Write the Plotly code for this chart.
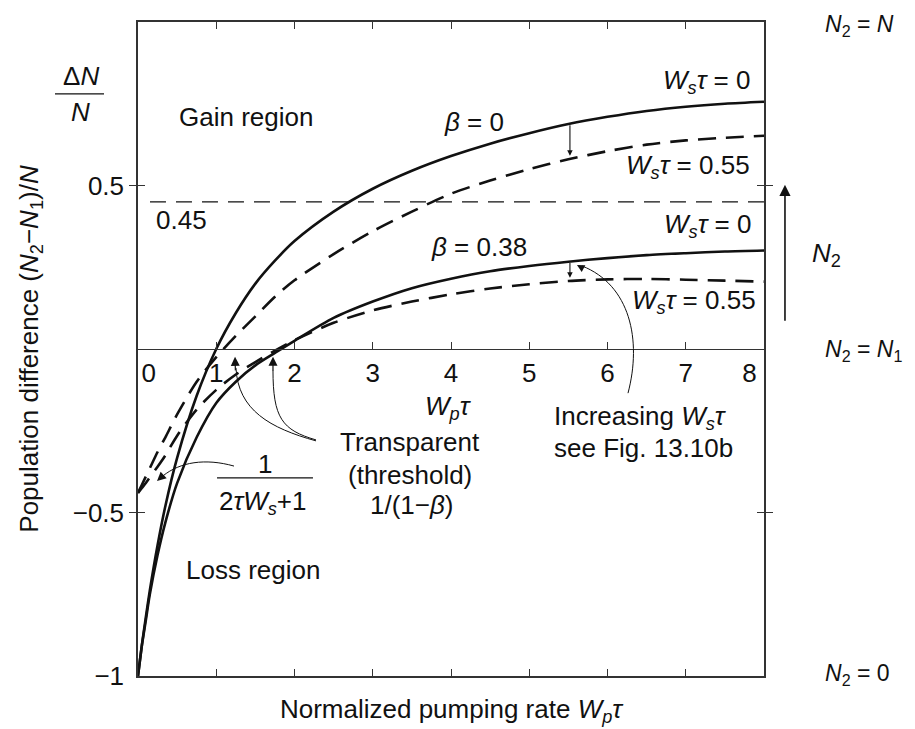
import numpy as np
import plotly.graph_objects as go

# ---------------- data ----------------
wp_tau = [0, 0.05, 0.1, 0.15, 0.25, 0.35, 0.5, 0.75, 1.0, 1.25, 1.5, 1.75, 2.0,
          2.5, 3.0, 3.5, 4.0, 4.5, 5.0, 5.5, 6.0, 6.5, 7.0, 7.5, 8.0]
beta0_ws0 = [-1.0, -0.905, -0.82, -0.74, -0.60, -0.48, -0.333, -0.143, 0.0,
             0.11, 0.20, 0.27, 0.33, 0.42, 0.49, 0.545, 0.59, 0.628, 0.66,
             0.688, 0.71, 0.728, 0.741, 0.75, 0.756]
beta0_ws055 = [-0.44, -0.415, -0.39, -0.365, -0.315, -0.27, -0.20, -0.10,
               -0.025, 0.04, 0.10, 0.16, 0.21, 0.29, 0.36, 0.42, 0.475, 0.515,
               0.55, 0.58, 0.605, 0.625, 0.638, 0.646, 0.652]
beta038_ws0 = [-1.0, -0.906, -0.83, -0.752, -0.63, -0.53, -0.41, -0.27, -0.165,
               -0.10, -0.05, -0.012, 0.025, 0.095, 0.145, 0.186, 0.215, 0.238,
               0.254, 0.267, 0.278, 0.287, 0.293, 0.298, 0.301]
beta038_ws055 = [-0.44, -0.425, -0.41, -0.393, -0.36, -0.325, -0.265, -0.185,
                 -0.125, -0.078, -0.04, -0.005, 0.027, 0.08, 0.118, 0.145,
                 0.167, 0.185, 0.198, 0.208, 0.213, 0.214, 0.212, 0.209, 0.206]
ref_level = 0.45
x_tick_vals = [0, 1, 2, 3, 4, 5, 6, 7, 8]
x_tick_text = ["\u00a0\u00a0\u00a00", "1", "2", "3", "4", "5", "6", "7",
               "8\u00a0\u00a0\u00a0\u00a0"]
y_tick_vals = [-1, -0.5, 0.5, 1]
y_tick_text = ["\u22121", "\u22120.5", "0.5", "1"]

FONT = "Liberation Sans, Arial, Helvetica, sans-serif"
FS = 26
INK = "#111111"
FRAME = "#333333"

fig = go.Figure()

curves = [(beta0_ws0, "solid"), (beta0_ws055, "18px,10px"),
          (beta038_ws0, "solid"), (beta038_ws055, "18px,10px")]
for ys, dash in curves:
    fig.add_trace(go.Scatter(
        x=wp_tau, y=ys, mode="lines", showlegend=False, hoverinfo="skip",
        line=dict(color=INK, width=2.6, dash=dash, shape="spline", smoothing=0.8)))

# reference level line (drawn on the overlay axis so it exists)
fig.add_trace(go.Scatter(
    x=[0.153, 8], y=[ref_level, ref_level], mode="lines", xaxis="x2",
    showlegend=False, hoverinfo="skip",
    line=dict(color=INK, width=1.3, dash="16px,10px")))

ann = []


def refs(ref):
    return ("x", "y") if ref == "data" else ("x domain", "y domain")


def txt(x, y, s, ref="data", size=FS, **kw):
    r = refs(ref)
    d = dict(x=x, y=y, xref=r[0], yref=r[1], text=s, showarrow=False,
             xanchor="center", yanchor="middle",
             font=dict(family=FONT, size=size, color=INK))
    d.update(kw)
    ann.append(d)


def arrow(x, y, ax, ay, head=2, size=1.2, width=1.2, ref="data"):
    r = refs(ref)
    ann.append(dict(x=x, y=y, ax=ax, ay=ay, xref=r[0], yref=r[1], axref=r[0],
                    ayref=r[1], text="", showarrow=True, arrowhead=head,
                    arrowsize=size, arrowwidth=width, arrowcolor=INK,
                    standoff=0, startstandoff=0))


W_s = "<i>W<sub>s</sub>τ</i>"

# texts outside the plotting area (domain coordinates)
txt(-0.0911, 0.917, "Δ<i>N</i>", ref="dom")
txt(-0.0911, 0.862, "<i>N</i>", ref="dom")
txt(1.095, 0.995, "<i>N</i><sub>2</sub> = <i>N</i>", ref="dom", size=23,
    xanchor="left")
txt(1.0735, 0.645, "<i>N</i><sub>2</sub>", ref="dom", xanchor="left")
txt(1.095, 0.498, "<i>N</i><sub>2</sub> = <i>N</i><sub>1</sub>", ref="dom",
    size=23, xanchor="left")
txt(1.095, 0.002, "<i>N</i><sub>2</sub> = 0", ref="dom", size=23, xanchor="left")
arrow(1.0335, 0.751, 1.0335, 0.541, head=2, size=1.4, width=1.6, ref="dom")

# texts inside
txt(1.38, 0.709, "Gain region")
txt(4.29, 0.694, "<i>β</i> = 0")
txt(7.85, 0.817, W_s + " = 0", xanchor="right")
txt(7.85, 0.557, W_s + " = 0.55", xanchor="right")
txt(0.562, 0.394, "0.45")
txt(7.86, 0.379, W_s + " = 0", xanchor="right")
txt(4.36, 0.312, "<i>β</i> = 0.38")
txt(7.92, 0.144, W_s + " = 0.55", xanchor="right")
txt(5.29, -0.208, "Increasing " + W_s, xanchor="left")
txt(5.29, -0.303, "see Fig. 13.10b", xanchor="left")
txt(3.97, -0.18, "<i>W<sub>p</sub>τ</i>")
txt(3.48, -0.285, "Transparent")
txt(3.48, -0.385, "(threshold)")
txt(3.50, -0.478, "1/(1−<i>β</i>)")
txt(1.623, -0.352, "1")
txt(1.585, -0.468, "2<i>τW<sub>s</sub></i>+1")
txt(1.47, -0.676, "Loss region")

# arrows
x_arr = 5.52
arrow(x_arr, float(np.interp(x_arr, wp_tau, beta0_ws055)) + 0.01,
      x_arr, float(np.interp(x_arr, wp_tau, beta0_ws0)), head=2, size=1.0, width=1.1)
arrow(x_arr, float(np.interp(x_arr, wp_tau, beta038_ws055)) + 0.01,
      x_arr, float(np.interp(x_arr, wp_tau, beta038_ws0)), head=2, size=1.0, width=1.1)
arrow(1.24, -0.024, 1.245, -0.07, head=2, size=1.5, width=1.2)
arrow(1.725, -0.024, 1.725, -0.07, head=2, size=1.5, width=1.2)
arrow(0.243, -0.404, 0.33, -0.385, head=2, size=1.5, width=1.2)
arrow(5.61, 0.257, 5.70, 0.245, head=2, size=1.5, width=1.0)

shapes = [
    dict(type="line", xref="x domain", yref="y domain", x0=-0.1326, x1=-0.0543,
         y0=0.890, y1=0.890, line=dict(color=INK, width=1.3)),
    dict(type="line", xref="x", yref="y", x0=1.010, x1=2.236, y0=-0.394, y1=-0.394,
         line=dict(color=INK, width=1.3)),
    dict(type="path", xref="x", yref="y",
         path="M 2.275,-0.281 C 1.687,-0.242 1.278,-0.187 1.252,-0.058",
         line=dict(color=INK, width=1.0)),
    dict(type="path", xref="x", yref="y",
         path="M 2.275,-0.278 C 1.840,-0.248 1.725,-0.211 1.725,-0.064",
         line=dict(color=INK, width=1.0)),
    dict(type="path", xref="x", yref="y",
         path="M 1.227,-0.358 C 0.856,-0.333 0.537,-0.346 0.319,-0.388",
         line=dict(color=INK, width=1.0)),
    dict(type="path", xref="x", yref="y",
         path="M 6.262,-0.135 C 6.441,0.028 6.288,0.196 5.674,0.254",
         line=dict(color=INK, width=1.0)),
]

axis_common = dict(showgrid=False, zeroline=False, linecolor=FRAME, tickcolor=FRAME,
                   ticks="inside", ticklen=7, tickwidth=1.2, automargin=False)

# the page body adds an 8px offset at the top-left, so the figure is 8px smaller
fig.update_layout(
    width=907, height=721,
    margin=dict(l=130, r=151, t=14, b=53),
    plot_bgcolor="white", paper_bgcolor="white",
    font=dict(family=FONT, size=FS, color=INK),
    showlegend=False,
    annotations=ann,
    shapes=shapes,
    xaxis=dict(range=[0, 8], showline=True, linewidth=1.5, mirror="allticks",
               tickvals=[1, 2, 3, 4, 5, 6, 7], showticklabels=False,
               title=dict(text="Normalized pumping rate <i>W<sub>p</sub>τ</i>",
                          font=dict(family=FONT, size=FS, color=INK), standoff=23),
               **axis_common),
    xaxis2=dict(range=[0, 8], overlaying="x", anchor="free", position=0.5,
                side="bottom", showline=True, linewidth=1.3,
                tickvals=x_tick_vals, ticktext=x_tick_text,
                tickfont=dict(family=FONT, size=FS, color=INK),
                ticklabelstandoff=1, **axis_common),
    yaxis=dict(range=[-1, 1], showline=True, linewidth=1.5, mirror="allticks",
               tickvals=y_tick_vals, ticktext=y_tick_text,
               tickfont=dict(family=FONT, size=FS, color=INK),
               ticklabelstandoff=7,
               title=dict(text="Population difference (<i>N</i><sub>2</sub>−<i>N</i><sub>1</sub>)/<i>N</i>",
                          font=dict(family=FONT, size=FS, color=INK), standoff=27),
               **axis_common),
)

fig.write_html("out.html")
